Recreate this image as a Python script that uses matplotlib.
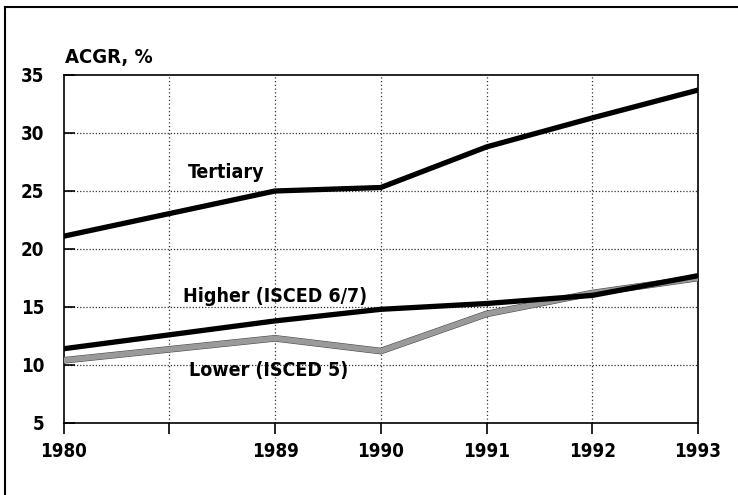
import matplotlib
matplotlib.use("Agg")
import matplotlib.pyplot as plt
from matplotlib.lines import Line2D
import matplotlib.patheffects as pe

# Data
positions_labels = ["1980", "", "1989", "1990", "1991", "1992", "1993"]
data_pos = [0, 2, 3, 4, 5, 6]
tertiary = [21.1, 25.0, 25.3, 28.8, 31.3, 33.7]
higher = [11.4, 13.8, 14.8, 15.3, 16.0, 17.7]
lower = [10.4, 12.3, 11.2, 14.4, 16.2, 17.5]
yticks = [5, 10, 15, 20, 25, 30, 35]

plt.rcParams['font.family'] = ["Liberation Sans Narrow", "DejaVu Sans"]
plt.rcParams['font.stretch'] = "condensed"
FS = dict(fontweight="bold", fontstretch="condensed")

fig = plt.figure(figsize=(7.38, 4.95), dpi=100)
ax = fig.add_axes([63.5/738, 1-423/495, (698-63.5)/738, (423-75)/495])

ax.plot(data_pos, lower, color="#9a9a9a", lw=4.0, solid_capstyle="butt",
        path_effects=[pe.Stroke(linewidth=4.8, foreground="#4a4a4a"), pe.Normal()], zorder=3)
ax.plot(data_pos, higher, color="black", lw=3.8, solid_capstyle="butt", zorder=4)
ax.plot(data_pos, tertiary, color="black", lw=3.8, solid_capstyle="butt", zorder=4)

ax.set_xlim(0, 6)
ax.set_ylim(5, 35)
ax.set_xticks(range(len(positions_labels)))
ax.set_xticklabels(positions_labels, fontsize=13.5, **FS)
ax.set_yticks(yticks)
ax.set_yticklabels([str(v) for v in yticks], fontsize=13.5, **FS)
ax.tick_params(axis="x", direction="out", length=8, width=1.2, pad=6)
ax.tick_params(axis="y", direction="in", length=8, width=1.2, pad=14)

for v in [10, 15, 20, 25, 30]:
    ax.axhline(v, color="#333333", lw=0.9, ls=(0, (1, 1.5)), zorder=1)
for p in range(1, 6):
    ax.axvline(p, color="#333333", lw=0.9, ls=(0, (1, 2)), zorder=1)

for s in ax.spines.values():
    s.set_linewidth(1.2)
    s.set_color("black")

ax.text(1.54, 26.6, "Tertiary", fontsize=14, ha="center", va="center", **FS)
ax.text(2.0, 15.9, "Higher (ISCED 6/7)", fontsize=14, ha="center", va="center", **FS)
ax.text(1.94, 9.5, "Lower (ISCED 5)", fontsize=14, ha="center", va="center", **FS)

fig.text(65/738, 1-58/495, "ACGR, %", fontsize=14.5, ha="left", va="center", **FS)

# Outer frame (left and top edges)
fig.add_artist(Line2D([4.5/738, 4.5/738], [0, 1-7/495], transform=fig.transFigure, color="black", lw=1.5))
fig.add_artist(Line2D([4.5/738, 1], [1-7/495, 1-7/495], transform=fig.transFigure, color="black", lw=1.5))

fig.savefig("out.png", dpi=100)
